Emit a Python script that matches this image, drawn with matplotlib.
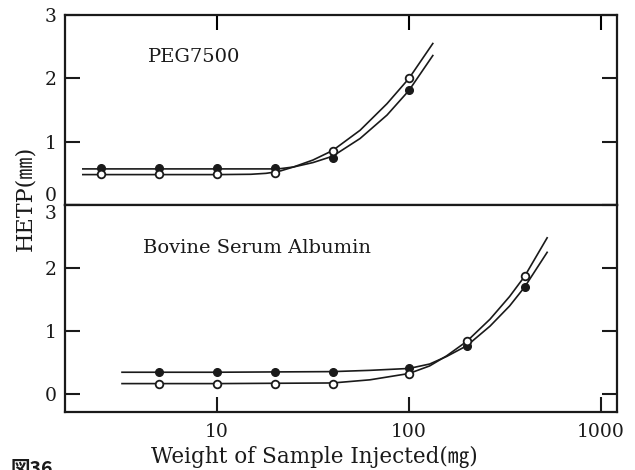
import numpy as np
import matplotlib
matplotlib.use("Agg")
import matplotlib.pyplot as plt

plt.rcParams.update({"font.family": ["DejaVu Serif", "Noto Sans CJK JP"]})
INK = "#1a1a1a"

# --- data (x: sample weight mg, y: HETP mm) ---
peg_x = [2.5, 5, 10, 20, 40, 100]
peg_filled = [0.58, 0.58, 0.58, 0.58, 0.75, 1.81]
peg_open = [0.49, 0.49, 0.49, 0.50, 0.86, 2.00]
peg_curve_x = [2.0, 10, 15, 18, 20, 21.5, 25, 31.6, 40, 55.6, 76.8, 100, 133]
peg_curve_filled = [0.57, 0.57, 0.57, 0.57, 0.57, 0.575, 0.60, 0.67, 0.77, 1.05, 1.42, 1.81, 2.36]
peg_curve_open = [0.48, 0.48, 0.485, 0.50, 0.52, 0.54, 0.60, 0.71, 0.86, 1.18, 1.60, 2.00, 2.55]

bsa_x = [5, 10, 20, 40, 100, 200, 400]
bsa_filled = [0.35, 0.35, 0.35, 0.35, 0.41, 0.77, 1.70]
bsa_open = [0.17, 0.17, 0.17, 0.17, 0.33, 0.84, 1.87]
bsa_curve_x = [3.2, 10, 40, 62.6, 100, 128, 157, 200, 264, 334, 400, 524]
bsa_curve_filled = [0.35, 0.35, 0.36, 0.38, 0.41, 0.48, 0.60, 0.77, 1.08, 1.40, 1.70, 2.25]
bsa_curve_open = [0.17, 0.17, 0.18, 0.23, 0.33, 0.45, 0.61, 0.84, 1.19, 1.55, 1.87, 2.48]

xticks = [10, 100, 1000]
xticklabels = ["10", "100", "1000"]

fig = plt.figure(figsize=(6.35, 4.7), dpi=100)
L, R = 65 / 635, 617 / 635
top = fig.add_axes([L, 1 - 205 / 470, R - L, 190 / 470])
bot = fig.add_axes([L, 1 - 412 / 470, R - L, 207 / 470], sharex=top)

def panel(ax, cx, cf, co, px, pf, po, label, lx, ly):
    ax.plot(cx, cf, color=INK, lw=1.2, zorder=2, solid_joinstyle="round")
    ax.plot(cx, co, color=INK, lw=1.2, zorder=2, solid_joinstyle="round")
    ax.plot(px, pf, "o", ms=5.5, mfc=INK, mec=INK, mew=1.0, zorder=3)
    ax.plot(px, po, "o", ms=5.5, mfc="white", mec=INK, mew=1.3, zorder=4)
    ax.text(lx, ly, label, transform=ax.transAxes, fontsize=14, color=INK, va="center")
    ax.set_xscale("log")
    for s in ax.spines.values():
        s.set_linewidth(1.6); s.set_color(INK)
    ax.minorticks_off()
    ax.tick_params(axis="y", direction="in", length=11, width=1.5, left=True, right=True,
                   labelsize=13.5, pad=6, colors=INK)
    ax.set_yticks([0, 1, 2, 3])

panel(top, peg_curve_x, peg_curve_filled, peg_curve_open, peg_x, peg_filled, peg_open,
      "PEG7500", 0.150, 0.78)
panel(bot, bsa_curve_x, bsa_curve_filled, bsa_curve_open, bsa_x, bsa_filled, bsa_open,
      "Bovine Serum Albumin", 0.141, 0.79)

top.set_xlim(1.615, 1211)
top.set_ylim(0.0, 3.0)
bot.set_ylim(-0.28, 3.0)
top.set_xticks(xticks)
top.tick_params(axis="x", which="both", direction="in", length=11, width=1.5, top=True, bottom=False,
                labelbottom=False, labeltop=False)
bot.tick_params(axis="x", which="both", direction="in", length=11, width=1.5, top=False, bottom=True,
                labelsize=13.5, pad=8, colors=INK)
bot.set_xticks(xticks); bot.set_xticklabels(xticklabels)
bot.minorticks_off(); top.minorticks_off()

# boundary labels nudged away from the shared edge, as in the print
top.yaxis.get_major_ticks()[0].label1.set_va("bottom")
bot.yaxis.get_major_ticks()[3].label1.set_va("top")

fig.text(0.495, 0.028, "Weight of Sample Injected(㎎)", ha="center", va="center", fontsize=15.5, color=INK)
fig.text(0.039, 0.577, "HETP(㎜)", ha="center", va="center", rotation=90, fontsize=16, color=INK)
fig.text(0.016, 0.022, "図36", ha="left", va="top", fontsize=14, fontweight="bold", color=INK,
         family=["Noto Sans CJK JP", "DejaVu Sans"])

fig.savefig("out.png", dpi=100)
